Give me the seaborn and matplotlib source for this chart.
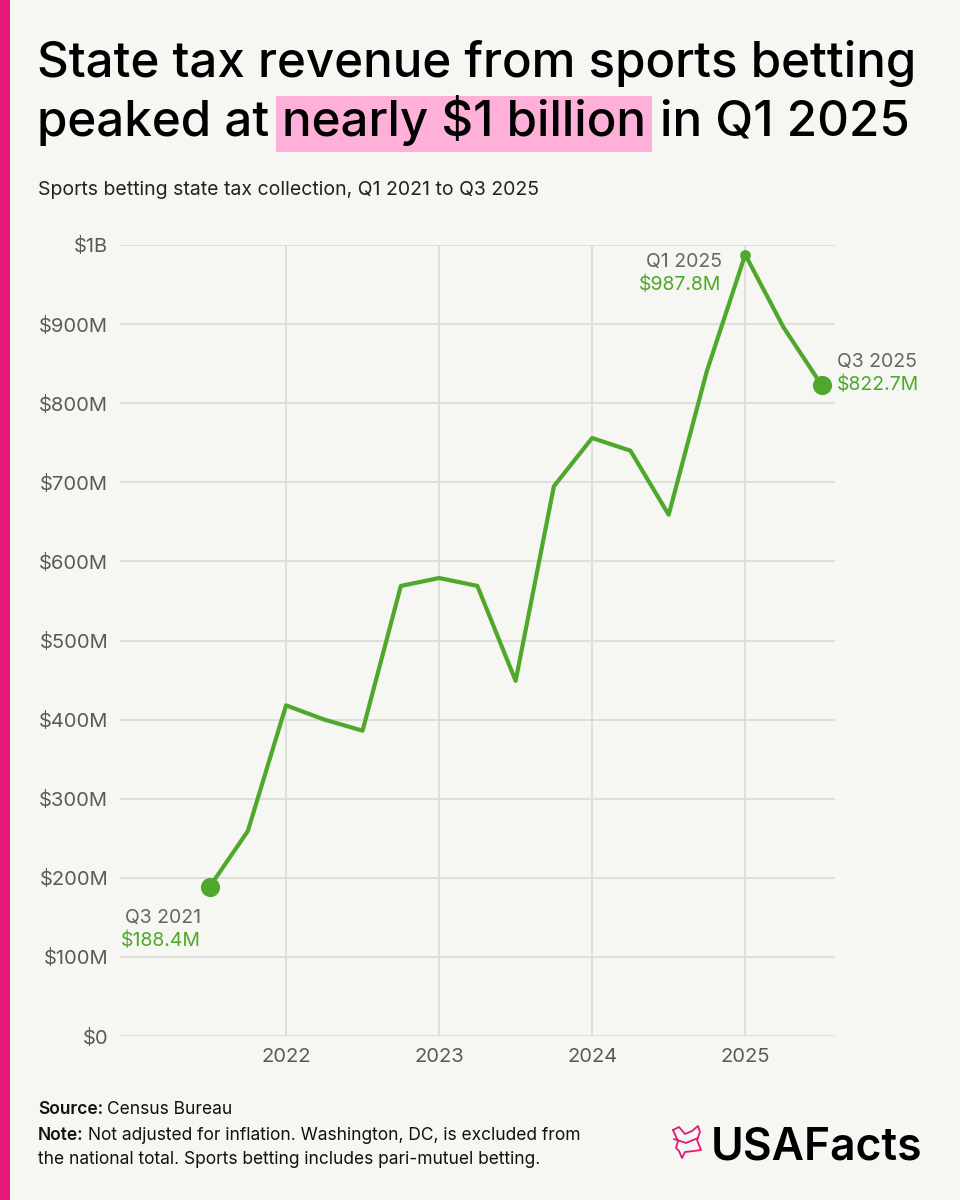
import numpy as np
import pandas as pd
import seaborn as sns
import matplotlib.pyplot as plt
from matplotlib.patches import Rectangle

# quarterly state tax collections, millions of dollars
quarters = ['Q3 2021', 'Q4 2021', 'Q1 2022', 'Q2 2022', 'Q3 2022', 'Q4 2022',
            'Q1 2023', 'Q2 2023', 'Q3 2023', 'Q4 2023', 'Q1 2024', 'Q2 2024',
            'Q3 2024', 'Q4 2024', 'Q1 2025', 'Q2 2025', 'Q3 2025']
revenue = [188.4, 259, 418, 400, 386, 569, 579, 569, 449, 695, 756, 740,
           659, 841, 987.8, 896, 822.7]
year_ticks = [2022, 2023, 2024, 2025]
y_ticks = [0, 100, 200, 300, 400, 500, 600, 700, 800, 900, 1000]
y_labels = ['$0', '$100M', '$200M', '$300M', '$400M', '$500M', '$600M',
            '$700M', '$800M', '$900M', '$1B']

def quarter_to_x(q):
    n, yr = q.split()
    return int(yr) + (int(n[1]) - 1) / 4

df = pd.DataFrame({'quarter': quarters, 'revenue': revenue})
df['x'] = df['quarter'].apply(quarter_to_x)

bg = '#F6F6F2'
green = '#4FA82B'
gray = '#666666'
pink = '#E5187A'

sns.set_style('white')
plt.rcParams['font.family'] = ['Inter', 'DejaVu Sans']

fig = plt.figure(figsize=(9.6, 12), dpi=100, facecolor=bg)
ax = fig.add_axes([0.125, 1 - 1036 / 1200, 0.745, (1036 - 245) / 1200])
ax.set_facecolor(bg)

sns.lineplot(data=df, x='x', y='revenue', color=green, linewidth=3, ax=ax, zorder=3)

ends = df.iloc[[0, -1]]
ax.scatter(ends['x'], ends['revenue'], s=190, color=green, zorder=4, linewidths=0)
peak = df.loc[df['revenue'].idxmax()]
ax.scatter([peak['x']], [peak['revenue']], s=60, color=green, zorder=4, linewidths=0)

ax.set_xlim(2020.915, 2025.588)
ax.set_ylim(0, 1000)
ax.set_xticks(year_ticks)
ax.set_xticklabels([str(y) for y in year_ticks])
ax.set_yticks(y_ticks)
ax.set_yticklabels(y_labels)
ax.tick_params(axis='both', length=0, labelsize=14.5, labelcolor='#5a5a5a')
ax.tick_params(axis='y', pad=8.5)
ax.tick_params(axis='x', pad=9)
ax.grid(True, color='#DCDCD8', linewidth=1.3)
ax.set_axisbelow(True)
for s in ax.spines.values():
    s.set_visible(False)
ax.set_xlabel('')
ax.set_ylabel('')

# point annotations
first = df.iloc[0]
last = df.iloc[-1]
ax.annotate(first['quarter'], (first['x'], first['revenue']), xytext=(-6, -22),
            textcoords='offset points', ha='right', va='center', fontsize=14, color=gray)
ax.annotate(f"${first['revenue']:.1f}M", (first['x'], first['revenue']), xytext=(-6, -39),
            textcoords='offset points', ha='right', va='center', fontsize=14, color=green)
ax.annotate(peak['quarter'], (peak['x'], peak['revenue']), xytext=(-17, -5),
            textcoords='offset points', ha='right', va='center', fontsize=14, color=gray)
ax.annotate(f"${peak['revenue']:.1f}M", (peak['x'], peak['revenue']), xytext=(-17, -22),
            textcoords='offset points', ha='right', va='center', fontsize=14, color=green)
ax.annotate(last['quarter'], (last['x'], last['revenue']), xytext=(11, 17),
            textcoords='offset points', ha='left', va='center', fontsize=14, color=gray)
ax.annotate(f"${last['revenue']:.1f}M", (last['x'], last['revenue']), xytext=(11, 0),
            textcoords='offset points', ha='left', va='center', fontsize=14, color=green)

# left accent bar
fig.patches.append(Rectangle((0, 0), 10 / 960, 1, transform=fig.transFigure,
                             facecolor=pink, edgecolor='none'))

# title with highlighted phrase
tsize = 35.5
fig.text(37 / 960, 1 - 77 / 1200, 'State tax revenue from sports betting',
         fontsize=tsize, fontweight='medium', color='black', va='baseline')
renderer = fig.canvas.get_renderer()
t1 = fig.text(37 / 960, 1 - 136 / 1200, 'peaked at ', fontsize=tsize,
              fontweight='medium', color='black', va='baseline')
bb = t1.get_window_extent(renderer)
t2 = fig.text(bb.x1 / 960, 1 - 136 / 1200, 'nearly $1 billion', fontsize=tsize,
              fontweight='medium', color='black', va='baseline')
bb2 = t2.get_window_extent(renderer)
fig.patches.append(Rectangle(((bb2.x0 - 6) / 960, 1 - 152 / 1200), (bb2.width + 12) / 960,
                             56 / 1200, transform=fig.transFigure,
                             facecolor='#FFB0D8', edgecolor='none', zorder=0))
fig.text((bb2.x1 + 14) / 960, 1 - 136 / 1200, 'in Q1 2025', fontsize=tsize,
         fontweight='medium', color='black', va='baseline')

fig.text(38 / 960, 1 - 195 / 1200, 'Sports betting state tax collection, Q1 2021 to Q3 2025',
         fontsize=14, color='#222222', va='baseline')

# footer
fsize = 12.5
s1 = fig.text(38 / 960, 1 - 1114 / 1200, 'Source:', fontsize=fsize, fontweight='semibold',
              color='#111111', va='baseline')
sb = s1.get_window_extent(renderer)
fig.text((sb.x1 + 4) / 960, 1 - 1114 / 1200, 'Census Bureau', fontsize=fsize,
         color='#111111', va='baseline')
n1 = fig.text(38 / 960, 1 - 1140 / 1200, 'Note:', fontsize=fsize, fontweight='semibold',
              color='#111111', va='baseline')
nb = n1.get_window_extent(renderer)
fig.text((nb.x1 + 4) / 960, 1 - 1140 / 1200,
         'Not adjusted for inflation. Washington, DC, is excluded from',
         fontsize=fsize, color='#111111', va='baseline')
fig.text(38 / 960, 1 - 1164 / 1200,
         'the national total. Sports betting includes pari-mutuel betting.',
         fontsize=fsize, color='#111111', va='baseline')

# logo
fig.text(922 / 960, 1 - 1159 / 1200, 'USAFacts', fontsize=32, fontweight='semibold',
         color='black', ha='right', va='baseline')
lx = np.array([673, 679, 685, 692, 698, 700, 697, 701, 694, 685, 682, 679, 676, 678, 673]) / 960
ly = 1 - np.array([1130, 1127, 1134, 1131, 1126, 1132, 1140, 1150, 1151, 1152, 1158, 1151, 1148, 1141, 1130]) / 1200
fig.lines.append(plt.Line2D(lx, ly, transform=fig.transFigure, color=pink, linewidth=1.3))
fig.lines.append(plt.Line2D(np.array([674, 686, 698]) / 960, 1 - np.array([1139, 1143, 1138]) / 1200,
                            transform=fig.transFigure, color=pink, linewidth=1.3))

fig.savefig('out.png', dpi=100, facecolor=bg)
